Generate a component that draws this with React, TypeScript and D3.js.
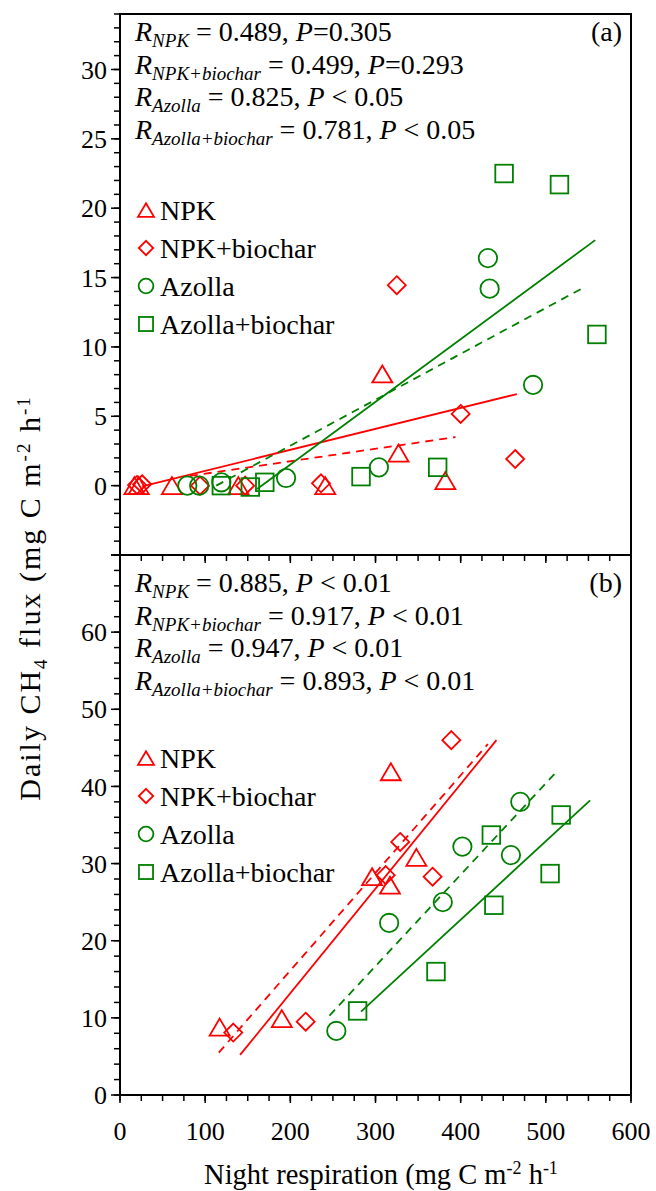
import React from "react";
import * as d3 from "d3";

// ---------- data ----------
const seriesNames = ["NPK", "NPK+biochar", "Azolla", "Azolla+biochar"];
const seriesColors = ["#ff0000", "#ff0000", "#008000", "#008000"];
const seriesShapes = ["triangle", "diamond", "circle", "square"];

// Panel (a)
const aNPKx = [17, 22, 61, 139, 241, 308, 327, 382];
const aNPKy = [0, 0, 0, 0, 0, 8.05, 2.35, 0.36];
const aNPKBx = [20, 26, 94, 147, 236, 325, 400, 464];
const aNPKBy = [0.05, 0.1, 0, 0, 0.17, 14.45, 5.17, 1.92];
const aAzx = [79, 93, 119, 195, 304, 432, 434, 485];
const aAzy = [0, 0, 0.24, 0.55, 1.32, 16.4, 14.2, 7.26];
const aAzBx = [119, 153, 170, 283, 373, 451, 516, 560];
const aAzBy = [0, -0.1, 0.24, 0.65, 1.32, 22.5, 21.7, 10.9];

// regression segments (x1, y1, x2, y2) per series
const aFitNPK = [26, -0.05, 466, 6.6];
const aFitNPKB = [82, 0.7, 394, 3.5];
const aFitAz = [161, -0.24, 558, 17.7];
const aFitAzB = [113, 0, 545, 14.3];

// Panel (b)
const bNPKx = [117, 190, 296, 317, 318, 348];
const bNPKy = [8.8, 9.9, 28.3, 27.2, 41.9, 30.8];
const bNPKBx = [133, 218, 312, 329, 367, 389];
const bNPKBy = [8.1, 9.5, 28.5, 32.8, 28.3, 46.0];
const bAzx = [254, 316, 379, 402, 459, 470];
const bAzy = [8.3, 22.3, 25.0, 32.2, 31.1, 38.0];
const bAzBx = [279, 371, 436, 439, 505, 518];
const bAzBy = [10.9, 16.0, 33.7, 24.6, 28.7, 36.3];

const bFitNPK = [141, 5.2, 442, 46.0];
const bFitNPKB = [116, 5.5, 432, 45.5];
const bFitAz = [283, 10.8, 552, 38.2];
const bFitAzB = [246, 10.3, 510, 41.6];

const fitDashed = [false, true, false, true];

// statistics text
const aStatSubs = ["NPK", "NPK+biochar", "Azolla", "Azolla+biochar"];
const aStatR = ["0.489", "0.499", "0.825", "0.781"];
const aStatP = ["=0.305", "=0.293", " < 0.05", " < 0.05"];
const bStatR = ["0.885", "0.917", "0.947", "0.893"];
const bStatP = [" < 0.01", " < 0.01", " < 0.01", " < 0.01"];

// ticks
const xTicks = [0, 100, 200, 300, 400, 500, 600];
const aYTicks = [0, 5, 10, 15, 20, 25, 30];
const bYTicks = [0, 10, 20, 30, 40, 50, 60];

const FONT = "Liberation Serif";

function Marker({ shape, cx, cy, s, color }: any) {
  const sw = 1.8;
  if (shape === "triangle") {
    const h = s * 0.85;
    const d = `M${cx},${cy - h / 2} L${cx + s / 2},${cy + h / 2} L${cx - s / 2},${cy + h / 2} Z`;
    return <path d={d} fill="none" stroke={color} strokeWidth={sw} />;
  }
  if (shape === "diamond") {
    const r = s * 0.45;
    const d = `M${cx},${cy - r} L${cx + r},${cy} L${cx},${cy + r} L${cx - r},${cy} Z`;
    return <path d={d} fill="none" stroke={color} strokeWidth={sw} />;
  }
  if (shape === "circle") {
    return <circle cx={cx} cy={cy} r={s * 0.46} fill="none" stroke={color} strokeWidth={sw} />;
  }
  const h = s * 0.88;
  return <rect x={cx - h / 2} y={cy - h / 2} width={h} height={h} fill="none" stroke={color} strokeWidth={sw} />;
}

export default function App() {
  const W = 656;
  const H = 1191;
  const left = 120;
  const right = 631;
  const x = d3.scaleLinear().domain([0, 600]).range([left, right]);
  const yA = d3.scaleLinear().domain([-5, 34]).range([555, 14]);
  const yB = d3.scaleLinear().domain([0, 70]).range([1095, 555]);

  const panels = [
    {
      y: yA,
      xs: [aNPKx, aNPKBx, aAzx, aAzBx],
      ys: [aNPKy, aNPKBy, aAzy, aAzBy],
      fits: [aFitNPK, aFitNPKB, aFitAz, aFitAzB],
      majors: d3.range(-5, 35, 5),
      minors: d3.range(-5, 35, 1),
      labels: aYTicks,
      statR: aStatR,
      statP: aStatP,
      statY0: 41,
      tag: "(a)",
      legendY0: 210,
      showX: false,
    },
    {
      y: yB,
      xs: [bNPKx, bNPKBx, bAzx, bAzBx],
      ys: [bNPKy, bNPKBy, bAzy, bAzBy],
      fits: [bFitNPK, bFitNPKB, bFitAz, bFitAzB],
      majors: d3.range(0, 71, 10),
      minors: d3.range(0, 71, 2),
      labels: bYTicks,
      statR: bStatR,
      statP: bStatP,
      statY0: 592,
      tag: "(b)",
      legendY0: 758,
      showX: true,
    },
  ];

  const xMinor = d3.range(0, 601, 25);

  return (
    <svg width={W} height={H} style={{ position: "absolute", left: 0, top: 0, background: "#fff", fontFamily: FONT }}>
      <rect x={0} y={0} width={W} height={H} fill="#fff" />
      {panels.map((p, pi) => {
        const [y0, y1] = p.y.range();
        const lineStep = 32.5;
        const legendStep = 38;
        return (
          <g key={pi}>
            {p.fits.map((f, i) => (
              <line
                key={"f" + i}
                x1={x(f[0])}
                y1={p.y(f[1])}
                x2={x(f[2])}
                y2={p.y(f[3])}
                stroke={seriesColors[i]}
                strokeWidth={1.8}
                strokeDasharray={fitDashed[i] ? "8,6" : undefined}
              />
            ))}
            {p.xs.map((xs, i) =>
              xs.map((xv, j) => (
                <Marker key={`m${i}-${j}`} shape={seriesShapes[i]} cx={x(xv)} cy={p.y(p.ys[i][j])} s={20} color={seriesColors[i]} />
              ))
            )}
            <rect x={left} y={y1} width={right - left} height={y0 - y1} fill="none" stroke="#000" strokeWidth={2} />
            {p.minors.map((v) => (
              <line key={"ym" + v} x1={left - 6} x2={left} y1={p.y(v)} y2={p.y(v)} stroke="#000" strokeWidth={1.5} />
            ))}
            {p.majors.map((v) => (
              <line key={"yM" + v} x1={left - 9} x2={left} y1={p.y(v)} y2={p.y(v)} stroke="#000" strokeWidth={1.5} />
            ))}
            {p.labels.map((v) => (
              <text key={"yl" + v} x={left - 13} y={p.y(v)} dy="0.35em" textAnchor="end" fontSize={26}>
                {v}
              </text>
            ))}
            {xMinor.map((v) => (
              <line key={"xm" + v} x1={x(v)} x2={x(v)} y1={y0} y2={y0 + 6} stroke="#000" strokeWidth={1.5} />
            ))}
            {xTicks.map((v) => (
              <line key={"xM" + v} x1={x(v)} x2={x(v)} y1={y0} y2={y0 + 8} stroke="#000" strokeWidth={1.5} />
            ))}
            {p.showX &&
              xTicks.map((v) => (
                <text key={"xl" + v} x={x(v)} y={y0 + 45} textAnchor="middle" fontSize={26}>
                  {v}
                </text>
              ))}
            {aStatSubs.map((sub, i) => (
              <text key={"st" + i} x={135} y={p.statY0 + i * lineStep} fontSize={28}>
                <tspan fontStyle="italic">R</tspan>
                <tspan fontStyle="italic" fontSize={19} dy={6}>
                  {sub}
                </tspan>
                <tspan dy={-6}>{" = " + p.statR[i] + ", "}</tspan>
                <tspan fontStyle="italic">P</tspan>
                <tspan>{p.statP[i]}</tspan>
              </text>
            ))}
            <text x={622} y={p.statY0} textAnchor="end" fontSize={28}>
              {p.tag}
            </text>
            {seriesNames.map((n, i) => (
              <g key={"lg" + i}>
                <Marker shape={seriesShapes[i]} cx={146} cy={p.legendY0 + i * legendStep} s={16} color={seriesColors[i]} />
                <text x={160} y={p.legendY0 + i * legendStep} dy="0.35em" fontSize={28}>
                  {n}
                </text>
              </g>
            ))}
          </g>
        );
      })}
      <text x={381} y={1184} textAnchor="middle" fontSize={28.5}>
        Night respiration (mg C m<tspan fontSize={18} dy={-10}>-2</tspan>
        <tspan dy={10}> h</tspan>
        <tspan fontSize={18} dy={-10}>-1</tspan>
      </text>
      <text transform="translate(40,598) rotate(-90)" textAnchor="middle" fontSize={30} letterSpacing={2}>
        Daily CH<tspan fontSize={19} dy={7}>4</tspan>
        <tspan dy={-7}> flux (mg C m</tspan>
        <tspan fontSize={19} dy={-10}>-2</tspan>
        <tspan dy={10}> h</tspan>
        <tspan fontSize={19} dy={-10}>-1</tspan>
      </text>
    </svg>
  );
}
